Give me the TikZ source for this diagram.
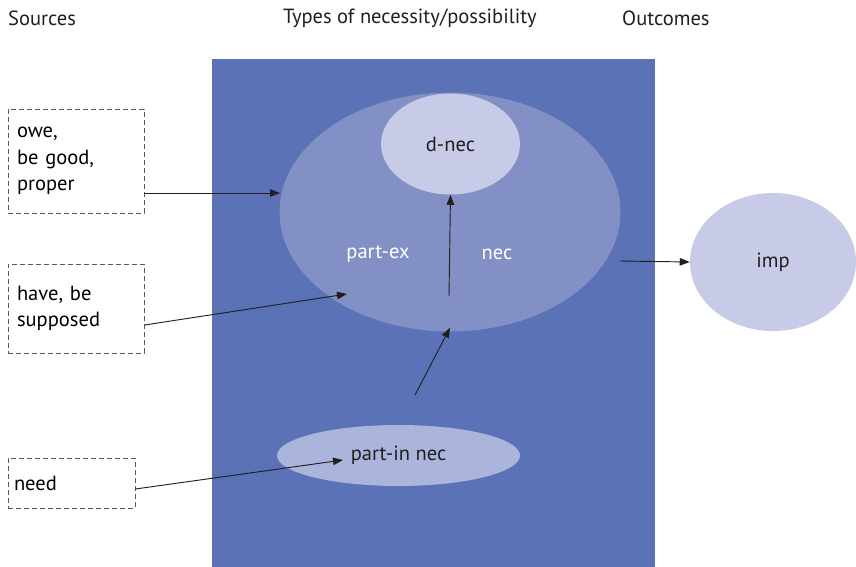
\documentclass[tikz,border=0pt]{standalone}
\usepackage{fontspec}
\setmainfont{PT Sans}
\usepackage{tikz}
\usetikzlibrary{arrows.meta}
\usetikzlibrary{shapes.geometric}
\definecolor{fieldblue}{RGB}{91,114,182}
\definecolor{necfill}{RGB}{130,144,198}
\definecolor{palefill}{RGB}{199,203,231}
\definecolor{partinfill}{RGB}{171,180,219}
\definecolor{inkdark}{RGB}{35,31,32}
\tikzset{
	srcbox/.style={draw=inkdark!75, dashed, dash pattern=on 3.4pt off 2.6pt, line width=0.6pt, align=left, anchor=center, inner ysep=0pt},
	blob/.style={ellipse, inner sep=0pt, text=inkdark},
	arr/.style={-{Triangle[length=7.5pt,width=5.6pt]}, line width=0.7pt, draw=inkdark},
	head/.style={anchor=west, text=inkdark}
}

\begin{document}
\begin{tikzpicture}[x=0.75pt, y=-0.75pt, font=\fontsize{15.4}{20}\selectfont]
						\useasboundingbox (0, 0) rectangle (856, 567);
						\fill[fieldblue] (212, 59) rectangle (655, 567);
						% column titles
						\node[head] (hsrc) at (3.5, 18) {Sources};
						\node[head] (htyp) at (278.5, 18) {Types of necessity/possibility};
						\node[head] (hout) at (617.5, 18) {Outcomes};
						% sources
						\node[srcbox, minimum width=102pt, minimum height=78pt, text width=88.5pt, inner xsep=6.75pt] (owe) at (76, 161) {owe,\\be good,\\proper};
						\node[srcbox, minimum width=102pt, minimum height=66.75pt, text width=88.5pt, inner xsep=6.75pt] (have) at (76, 308.5) {have, be\\supposed};
						\node[srcbox, minimum width=95.25pt, minimum height=37.5pt, text width=86.25pt, inner xsep=4.5pt] (need) at (71.5, 483) {need};
						% types
						\node[blob, fill=necfill, minimum width=255.75pt, minimum height=179.25pt] (nec) at (450, 212) {};
						\node[blob, fill=palefill, minimum width=104.25pt, minimum height=75.75pt] (dnec) at (450.5, 144) {d-nec};
						\node[text=white] (partex) at (378, 254) {part-ex};
						\node[text=white] (neclbl) at (497, 254) {nec};
						\node[blob, fill=partinfill, minimum width=182.25pt, minimum height=45.75pt] (partin) at (398.5, 455.5) {part-in nec};
						% outcome
						\node[blob, fill=palefill, minimum width=124.5pt, minimum height=103.5pt] (imp) at (773, 262) {imp};
						% arrow ends
						\coordinate (oweout) at ([yshift=-24pt]owe.east);
						\coordinate (haveout) at ([yshift=-12.4pt]have.east);
						\coordinate (needout) at ([yshift=-4.5pt]need.east);
						\coordinate (owein) at (280, 193);
						\coordinate (havein) at (347, 294);
						\coordinate (needin) at (343, 460);
						\coordinate (upfoot) at (449, 296);
						\coordinate (infoot) at (415, 395);
						\coordinate (necout) at (620, 261);
						\draw[arr] (oweout) -- (owein);
						\draw[arr] (haveout) -- (havein);
						\draw[arr] (needout) -- (needin);
						\draw[arr] (upfoot) -- (dnec.south);
						\draw[arr] (infoot) -- ([yshift=3pt]nec.south);
						\draw[arr] (necout) -- (imp.west);
					\end{tikzpicture}
\end{document}
